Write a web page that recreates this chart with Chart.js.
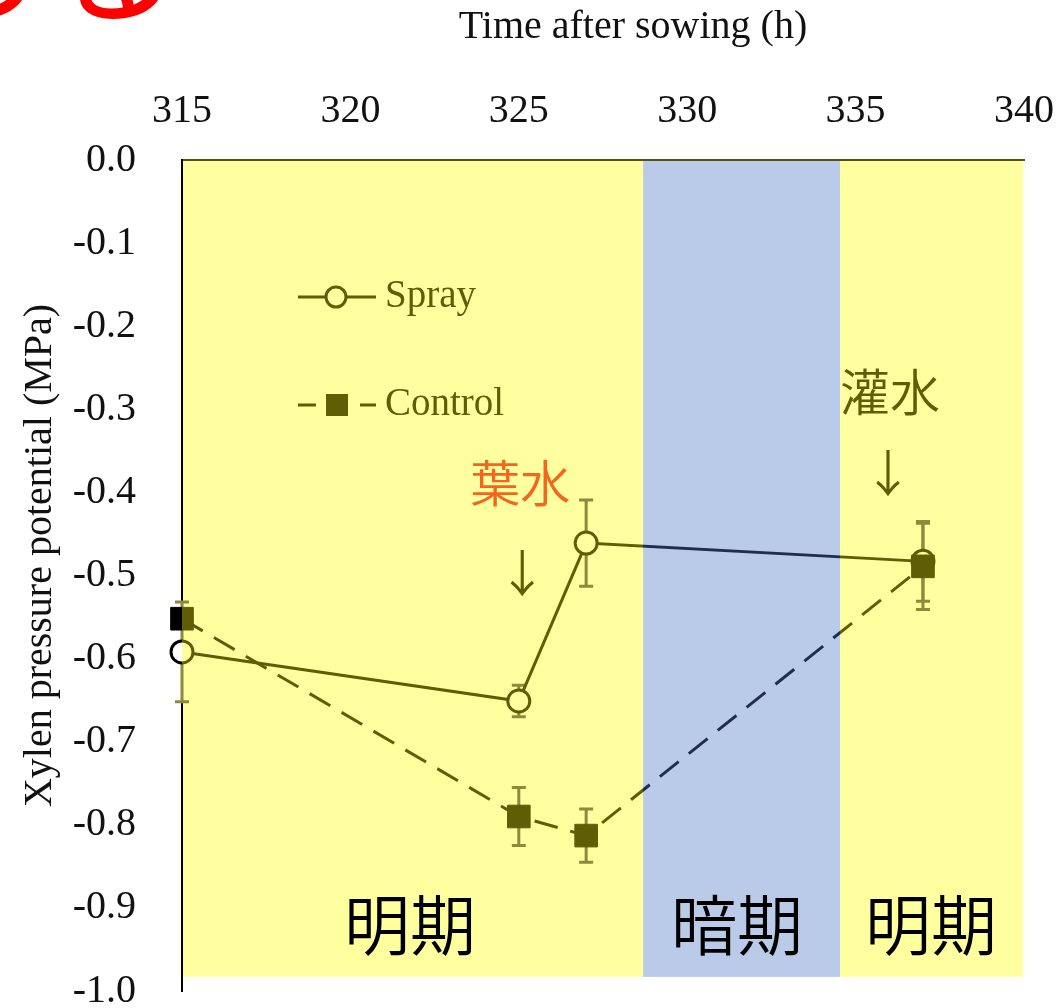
<!DOCTYPE html>
<html>
<head>
<meta charset="utf-8">
<script src="https://cdn.jsdelivr.net/npm/chart.js@4/dist/chart.umd.min.js"></script>
<style>
  html, body { margin: 0; padding: 0; background: #fff; }
  #wrap { width: 1059px; height: 1008px; }
</style>
</head>
<body>
<div id="wrap"><canvas id="chart" width="1059" height="1008"></canvas></div>
<script>
// data
const hours = [315, 325, 327, 337];
const sprayValues = [-0.592, -0.651, -0.461, -0.483];
const sprayErrors = [0.06, 0.019, 0.052, 0.048];
const controlValues = [-0.552, -0.790, -0.813, -0.489];
const controlErrors = [0.01, 0.035, 0.032, 0.052];

// light / dark periods (h)
const periodStarts = [315, 328.69, 334.54];
const periodEnds = [328.69, 334.54, 339.97];
const periodLabels = ['明期', '暗期', '明期'];
const periodLabelX = [321.77, 331.48, 337.24];
const periodBottom = -0.983;

const OLIVE = '#5f5d05';
const NAVY = '#1f2d4f';
const YELLOW = '#ffffa0';
const BLUE = '#b9cbe8';
const ERR = '#8c8a3c';
const SERIF = '"Liberation Serif", "Times New Roman", serif';
const CJK = '"Noto Sans CJK JP", "Noto Sans", sans-serif';

function zoneGradient(chart, inside, outside, dark) {
  const {ctx, chartArea, scales} = chart;
  if (!chartArea || !scales.x) return inside;
  const w = chart.width;
  const g = ctx.createLinearGradient(0, 0, w, 0);
  const l = chartArea.left / w;
  const b0 = scales.x.getPixelForValue(periodStarts[1]) / w;
  const b1 = scales.x.getPixelForValue(periodEnds[1]) / w;
  g.addColorStop(0, outside); g.addColorStop(l, outside);
  g.addColorStop(l, inside); g.addColorStop(b0, inside);
  g.addColorStop(b0, dark); g.addColorStop(b1, dark);
  g.addColorStop(b1, inside); g.addColorStop(1, inside);
  return g;
}

const periodsPlugin = {
  id: 'periods',
  beforeDraw(chart) {
    const {ctx, scales: {x, y}} = chart;
    ctx.save();
    for (let i = 0; i < periodStarts.length; i++) {
      const x0 = x.getPixelForValue(periodStarts[i]);
      const x1 = x.getPixelForValue(periodEnds[i]);
      const y0 = y.getPixelForValue(0);
      const y1 = y.getPixelForValue(periodBottom);
      ctx.fillStyle = i === 1 ? BLUE : YELLOW;
      ctx.fillRect(x0, y0, x1 - x0, y1 - y0);
    }
    // red glyphs cut off at the top edge
    ctx.fillStyle = '#ff0000';
    ctx.font = '150px ' + CJK;
    ctx.textBaseline = 'alphabetic';
    ctx.fillText('る', -100, 12);
    ctx.fillText('る', 36, 12);
    ctx.restore();
  }
};

const errorBarsPlugin = {
  id: 'errorBars',
  beforeDatasetsDraw(chart) {
    const {ctx, scales: {x, y}} = chart;
    const sets = [[sprayValues, sprayErrors], [controlValues, controlErrors]];
    ctx.save();
    ctx.strokeStyle = ERR;
    ctx.lineWidth = 3;
    sets.forEach(([vals, errs]) => {
      hours.forEach((h, i) => {
        const px = x.getPixelForValue(h);
        const top = y.getPixelForValue(vals[i] + errs[i]);
        const bot = y.getPixelForValue(vals[i] - errs[i]);
        ctx.beginPath();
        ctx.moveTo(px, top); ctx.lineTo(px, bot);
        ctx.moveTo(px - 7, top); ctx.lineTo(px + 7, top);
        ctx.moveTo(px - 7, bot); ctx.lineTo(px + 7, bot);
        ctx.stroke();
      });
    });
    ctx.restore();
  }
};

const notesPlugin = {
  id: 'notes',
  afterDraw(chart) {
    const {ctx, scales: {x, y}} = chart;
    ctx.save();
    ctx.textAlign = 'center';
    ctx.textBaseline = 'middle';
    // period names
    ctx.fillStyle = '#000';
    ctx.font = '350 66px ' + CJK;
    periodLabels.forEach((t, i) => {
      ctx.fillText(t, x.getPixelForValue(periodLabelX[i]), y.getPixelForValue(-0.92));
    });
    ctx.font = '350 50px ' + CJK;
    ctx.fillStyle = '#f2661e';
    ctx.fillText('葉水', x.getPixelForValue(325.04), y.getPixelForValue(-0.389));
    ctx.fillStyle = OLIVE;
    ctx.fillText('↓', x.getPixelForValue(325.1), y.getPixelForValue(-0.497));
    ctx.fillText('灌水', x.getPixelForValue(336.02), y.getPixelForValue(-0.279));
    ctx.fillText('↓', x.getPixelForValue(335.96), y.getPixelForValue(-0.377));

    // legend
    ctx.textAlign = 'left';
    ctx.font = '39px ' + SERIF;
    ctx.strokeStyle = OLIVE;
    ctx.lineWidth = 3;
    ctx.beginPath();
    ctx.moveTo(298, 297); ctx.lineTo(376, 297);
    ctx.stroke();
    ctx.beginPath();
    ctx.arc(336, 297, 10, 0, Math.PI * 2);
    ctx.fillStyle = YELLOW;
    ctx.fill();
    ctx.stroke();
    ctx.fillStyle = OLIVE;
    ctx.fillText('Spray', 385, 297);

    ctx.beginPath();
    ctx.moveTo(298, 405); ctx.lineTo(316, 405);
    ctx.moveTo(360, 405); ctx.lineTo(376, 405);
    ctx.stroke();
    ctx.fillRect(326, 394, 22, 22);
    ctx.fillText('Control', 385, 405);
    ctx.restore();
  }
};

const chart = new Chart(document.getElementById('chart'), {
  type: 'line',
  data: {
    datasets: [{
      label: 'Spray',
      data: hours.map((h, i) => ({x: h, y: sprayValues[i]})),
      order: 1,
      borderWidth: 3,
      borderColor: (c) => zoneGradient(c.chart, OLIVE, '#000', NAVY),
      pointStyle: 'circle',
      pointRadius: 11,
      pointBorderWidth: 3,
      pointBorderColor: (c) => zoneGradient(c.chart, OLIVE, '#000', NAVY),
      pointBackgroundColor: (c) => zoneGradient(c.chart, YELLOW, '#fff', BLUE),
      tension: 0
    }, {
      label: 'Control',
      data: hours.map((h, i) => ({x: h, y: controlValues[i]})),
      order: 0,
      borderWidth: 3,
      borderDash: [24, 13],
      borderColor: (c) => zoneGradient(c.chart, OLIVE, '#000', NAVY),
      pointStyle: 'rect',
      pointRadius: 16,
      pointBorderWidth: 1,
      pointBorderColor: (c) => zoneGradient(c.chart, OLIVE, '#000', NAVY),
      pointBackgroundColor: (c) => zoneGradient(c.chart, OLIVE, '#000', NAVY),
      tension: 0
    }]
  },
  options: {
    responsive: false,
    animation: false,
    devicePixelRatio: 1,
    clip: false,
    layout: { padding: { left: 0, top: 0, right: 35, bottom: 16 } },
    plugins: {
      legend: { display: false },
      tooltip: { enabled: false }
    },
    scales: {
      x: {
        type: 'linear',
        position: 'top',
        min: 315,
        max: 340,
        afterFit(scale) {
          scale.height = 160;
          scale.paddingLeft = 0;
          scale.paddingRight = 0;
        },
        grid: { display: false, drawTicks: false },
        border: { display: true, color: '#55530a', width: 2 },
        ticks: {
          stepSize: 5,
          padding: 25,
          maxRotation: 0,
          color: '#111',
          font: { family: SERIF, size: 40 }
        },
        title: {
          display: true,
          text: '      Time after sowing (h)',
          color: '#111',
          padding: { top: 3, bottom: 0 },
          font: { family: SERIF, size: 40 }
        }
      },
      y: {
        min: -1,
        max: 0,
        afterFit(scale) {
          scale.width = 182;
          scale.paddingTop = 0;
          scale.paddingBottom = 0;
        },
        grid: { display: false, drawTicks: false },
        border: { display: true, color: '#000', width: 2 },
        ticks: {
          stepSize: 0.1,
          padding: 46,
          color: '#111',
          font: { family: SERIF, size: 40 },
          callback: (v) => v.toFixed(1)
        },
        title: {
          display: true,
          text: '    Xylen pressure potential (MPa)',
          color: '#111',
          padding: { top: 16, bottom: 0 },
          font: { family: SERIF, size: 40 }
        }
      }
    }
  },
  plugins: [periodsPlugin, errorBarsPlugin, notesPlugin]
});
</script>
</body>
</html>
